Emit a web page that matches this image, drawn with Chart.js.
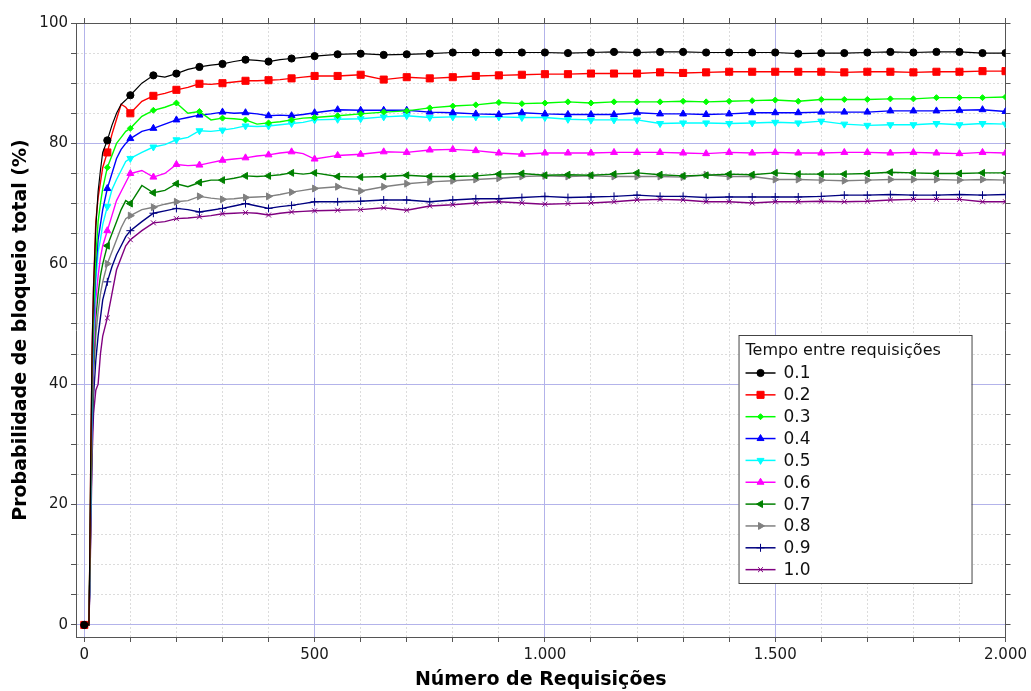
<!DOCTYPE html>
<html>
<head>
<meta charset="utf-8">
<script src="https://cdn.jsdelivr.net/npm/chart.js@4/dist/chart.umd.min.js"></script>
<style>
  html, body { margin: 0; padding: 0; background: #fff; }
  #wrap { width: 1031px; height: 691px; position: relative; }
</style>
</head>
<body>
<div id="wrap"><canvas id="bloqueioChart"></canvas></div>
<script>
// ─── DATA ───
const requisicoes = [0, 10, 12, 14, 17, 20, 25, 30, 35, 40, 50, 60, 70, 80, 90, 100,
  125, 150, 175, 200, 225, 250, 275, 300, 325, 350, 375, 400, 425, 450, 475, 500,
  550, 600, 650, 700, 750, 800, 850, 900, 950, 1000, 1050, 1100, 1150, 1200, 1250,
  1300, 1350, 1400, 1450, 1500, 1550, 1600, 1650, 1700, 1750, 1800, 1850, 1900, 1950, 2000];

const tempos = ['0.1', '0.2', '0.3', '0.4', '0.5', '0.6', '0.7', '0.8', '0.9', '1.0'];

const bloqueio01 = [0, 0, 12, 28, 46, 56, 66, 72, 75.5, 78.5, 80.5, 83, 85, 86.5, 87.2, 88,
  90, 91.3, 91, 91.6, 92.3, 92.7, 93, 93.2, 93.6, 93.9, 93.8, 93.6, 93.9, 94.1, 94.3, 94.5,
  94.8, 94.9, 94.7, 94.8, 94.9, 95.1, 95.1, 95.1, 95.1, 95.1, 95.0, 95.1, 95.2, 95.1, 95.2,
  95.2, 95.1, 95.1, 95.1, 95.1, 94.9, 95.0, 95.0, 95.1, 95.2, 95.1, 95.2, 95.2, 95.0, 95.0];
const bloqueio02 = [0, 0, 11, 27, 46, 56, 67, 71, 73.5, 76, 78.5, 81.5, 84, 86.5, 86, 85,
  87, 87.9, 88.3, 88.9, 89.3, 89.9, 89.8, 90.0, 90.2, 90.4, 90.4, 90.5, 90.6, 90.8, 91.0, 91.2,
  91.2, 91.4, 90.6, 91.0, 90.8, 91.0, 91.2, 91.3, 91.4, 91.5, 91.5, 91.6, 91.6, 91.6, 91.8,
  91.7, 91.8, 91.9, 91.9, 91.9, 91.9, 91.9, 91.8, 91.9, 91.9, 91.8, 91.9, 91.9, 92.0, 92.0];
const bloqueio03 = [0, 0, 10, 24, 42, 52, 61, 67, 70, 72.5, 76, 78, 80, 81, 82, 82.5,
  84.5, 85.5, 86.0, 86.7, 85.0, 85.3, 83.9, 84.2, 84.1, 83.9, 83.2, 83.4, 83.6, 83.9, 84.2, 84.3,
  84.6, 84.9, 85.2, 85.4, 85.9, 86.2, 86.4, 86.8, 86.6, 86.7, 86.9, 86.7, 86.9, 86.9, 86.9,
  87.0, 86.9, 87.0, 87.1, 87.2, 87.0, 87.3, 87.3, 87.3, 87.4, 87.4, 87.6, 87.6, 87.6, 87.7];
const bloqueio04 = [0, 0, 9, 22, 40, 50, 59, 64, 66.5, 69, 72.5, 75, 77.5, 79, 80, 80.8,
  82, 82.5, 83.2, 83.9, 84.3, 84.7, 84.9, 85.2, 85.0, 85.1, 84.9, 84.6, 84.7, 84.6, 84.8, 85.1,
  85.6, 85.5, 85.5, 85.5, 85.2, 85.1, 84.9, 84.8, 85.1, 84.9, 84.8, 84.8, 84.8, 85.1, 84.9,
  84.9, 84.8, 84.9, 85.1, 85.1, 85.1, 85.2, 85.2, 85.2, 85.4, 85.4, 85.4, 85.5, 85.6, 85.3];
const bloqueio05 = [0, 0, 9, 21, 38, 48, 57, 62, 64, 66.5, 69.5, 72.3, 74, 75.5, 77, 77.5,
  78.5, 79.4, 79.8, 80.6, 81.0, 82.1, 82.0, 82.2, 82.5, 82.9, 82.8, 82.9, 83.1, 83.3, 83.5, 83.9,
  84.0, 84.1, 84.4, 84.6, 84.3, 84.4, 84.4, 84.4, 84.3, 84.3, 84.0, 83.9, 83.9, 83.9, 83.3,
  83.4, 83.4, 83.3, 83.4, 83.5, 83.4, 83.7, 83.2, 83.0, 83.1, 83.1, 83.3, 83.1, 83.3, 83.2];
const bloqueio06 = [0, 0, 8, 20, 36, 45, 54, 58, 61, 63, 65.5, 68, 70.5, 72, 73.5, 75,
  75.5, 74.4, 75.0, 76.5, 76.3, 76.4, 76.8, 77.2, 77.4, 77.6, 77.9, 78.1, 78.4, 78.6, 78.3, 77.4,
  78.0, 78.2, 78.6, 78.5, 78.9, 79.0, 78.8, 78.4, 78.2, 78.4, 78.4, 78.4, 78.5, 78.5, 78.5,
  78.4, 78.3, 78.5, 78.4, 78.5, 78.4, 78.4, 78.5, 78.5, 78.4, 78.5, 78.4, 78.3, 78.5, 78.4];
const bloqueio07 = [0, 0, 8, 19, 34, 43, 51, 55, 58, 60, 63, 65, 67, 69, 70.5, 70,
  73.0, 71.8, 72.2, 73.3, 72.8, 73.5, 73.9, 73.9, 74.2, 74.6, 74.5, 74.6, 74.8, 75.1, 74.9, 75.1,
  74.5, 74.4, 74.5, 74.7, 74.5, 74.5, 74.6, 74.9, 75.0, 74.7, 74.8, 74.7, 74.9, 75.1, 74.8,
  74.6, 74.7, 74.9, 74.8, 75.1, 74.9, 74.9, 74.9, 75.0, 75.2, 75.1, 75.0, 75.0, 75.1, 75.1];
const bloqueio08 = [0, 0, 7, 18, 33, 41, 48, 52, 55, 57, 60, 62, 64, 66, 67.5, 68,
  69, 69.4, 69.9, 70.3, 70.5, 71.2, 70.9, 70.7, 70.8, 71.0, 71.1, 71.2, 71.5, 71.9, 72.2, 72.5,
  72.8, 72.1, 72.8, 73.3, 73.6, 73.8, 74.0, 74.2, 74.5, 74.6, 74.5, 74.6, 74.5, 74.5, 74.5,
  74.4, 74.8, 74.5, 74.5, 74.0, 74.0, 73.9, 73.8, 73.9, 74.0, 74.0, 74.0, 73.9, 74.0, 73.9];
const bloqueio09 = [0, 0, 7, 17, 31, 38, 44, 48, 51, 54, 57, 59.5, 61.5, 63, 64.5, 65.5,
  67, 68.4, 68.8, 69.2, 69.0, 68.6, 68.9, 69.2, 69.6, 70.0, 69.6, 69.2, 69.5, 69.7, 70.0, 70.3,
  70.3, 70.4, 70.6, 70.6, 70.3, 70.6, 70.8, 70.8, 71.0, 71.2, 71.0, 71.1, 71.2, 71.4, 71.2,
  71.2, 71.0, 71.1, 71.1, 71.1, 71.1, 71.2, 71.4, 71.4, 71.5, 71.4, 71.4, 71.5, 71.4, 71.5];
const bloqueio10 = [0, 0, 6, 15, 28, 35, 39, 40, 45, 48, 51, 55, 59, 61, 63, 64,
  65.5, 66.8, 67.0, 67.5, 67.6, 67.8, 68.0, 68.3, 68.4, 68.5, 68.4, 68.1, 68.4, 68.6, 68.7, 68.8,
  68.9, 69.0, 69.3, 68.9, 69.6, 69.8, 70.1, 70.3, 70.1, 69.9, 70.0, 70.1, 70.3, 70.6, 70.7,
  70.6, 70.3, 70.3, 70.1, 70.3, 70.3, 70.4, 70.3, 70.4, 70.6, 70.7, 70.7, 70.7, 70.3, 70.3];

const seriesValues = [bloqueio01, bloqueio02, bloqueio03, bloqueio04, bloqueio05,
  bloqueio06, bloqueio07, bloqueio08, bloqueio09, bloqueio10];

// ─── STYLES ───
const cores = ['#000000', '#ff0000', '#00ff00', '#0000ff', '#00ffff',
  '#ff00ff', '#008000', '#808080', '#000080', '#800080'];
const marcadores = [
  { style: 'circle', r: 3.6, rot: 0 },
  { style: 'rect', r: 5, rot: 0 },
  { style: 'rectRot', r: 3, rot: 0 },
  { style: 'triangle', r: 4, rot: 0 },
  { style: 'triangle', r: 4, rot: 180 },
  { style: 'triangle', r: 4, rot: 0 },
  { style: 'triangle', r: 4, rot: 270 },
  { style: 'triangle', r: 4, rot: 90 },
  { style: 'cross', r: 4, rot: 0 },
  { style: 'crossRot', r: 3.5, rot: 0 }
];

Chart.defaults.font.family = "'DejaVu Sans', sans-serif";
Chart.defaults.color = '#1a1a1a';

const datasets = tempos.map((t, k) => ({
  label: t,
  data: requisicoes.map((x, i) => ({ x: x, y: seriesValues[k][i] })),
  borderColor: cores[k],
  backgroundColor: cores[k],
  borderWidth: k === 0 ? 1.2 : 1.4,
  tension: 0,
  pointStyle: marcadores[k].style,
  pointRotation: marcadores[k].rot,
  pointRadius: requisicoes.map(x => x % 50 === 0 ? marcadores[k].r : 0),
  pointBorderColor: cores[k],
  pointBackgroundColor: cores[k],
  pointBorderWidth: 1,
  pointHoverRadius: 0
}));

function fmtMilhar(v) {
  return String(v).replace(/\B(?=(\d{3})+(?!\d))/g, '.');
}

const corMaior = '#b3b3ea';
const corMenor = '#dcdcdc';
const corEixo = '#555555';

// ─── LEGEND DRAWN INSIDE THE PLOT ───
const legendaInterna = {
  id: 'legendaInterna',
  afterDraw(chart) {
    const ctx = chart.ctx;
    const area = chart.chartArea;
    const left = area.right - 267;
    const top = area.bottom - 302;
    const w = 233, h = 248;
    ctx.save();
    ctx.fillStyle = '#ffffff';
    ctx.fillRect(left, top, w, h);
    ctx.strokeStyle = '#444';
    ctx.lineWidth = 1;
    ctx.strokeRect(left + 0.5, top + 0.5, w, h);
    ctx.fillStyle = '#111';
    ctx.textBaseline = 'middle';
    ctx.font = "16px 'DejaVu Sans'";
    ctx.fillText('Tempo entre requisições', left + 7, top + 16);
    ctx.font = "17px 'DejaVu Sans'";
    chart.data.datasets.forEach((ds, k) => {
      const y = top + 38 + k * 21.85;
      ctx.strokeStyle = ds.borderColor;
      ctx.lineWidth = 1.5;
      ctx.beginPath();
      ctx.moveTo(left + 7, y);
      ctx.lineTo(left + 37, y);
      ctx.stroke();
      ctx.fillStyle = ds.borderColor;
      ctx.strokeStyle = ds.borderColor;
      ctx.lineWidth = 1;
      Chart.helpers.drawPoint(ctx, {
        pointStyle: ds.pointStyle,
        rotation: ds.pointRotation,
        radius: marcadores[k].r,
        borderWidth: 1
      }, left + 22, y);
      ctx.fillStyle = '#111';
      ctx.fillText(ds.label, left + 45, y + 1);
    });
    ctx.restore();
  }
};

// ─── CREATE THE CHART ───
const ctx = document.getElementById('bloqueioChart').getContext('2d');
const bloqueioChart = new Chart(ctx, {
  type: 'line',
  data: { datasets: datasets },
  options: {
    responsive: true,
    maintainAspectRatio: false,
    animation: false,
    layout: { padding: 0 },
    plugins: {
      legend: { display: false },
      tooltip: { enabled: false }
    },
    scales: {
      x: {
        type: 'linear',
        position: 'bottom',
        min: -18,
        max: 2000,
        afterFit: s => { s.height = 54; },
        ticks: {
          stepSize: 100,
          maxTicksLimit: 50,
          autoSkip: false,
          includeBounds: false,
          maxRotation: 0,
          padding: 4,
          font: { size: 15 },
          callback: v => v % 500 === 0 ? fmtMilhar(v) : ''
        },
        grid: {
          color: c => (c.tick && c.tick.value % 500 === 0) ? corMaior : corMenor,
          lineWidth: 1,
          tickColor: corEixo,
          tickLength: 5
        },
        border: {
          color: corEixo,
          width: 1,
          dash: c => (c.tick && c.tick.value % 500 !== 0) ? [2, 2] : []
        },
        title: {
          display: true,
          text: 'Número de Requisições',
          font: { size: 19, weight: 'bold' },
          color: '#000',
          padding: { top: 0, bottom: 0 }
        }
      },
      x2: {
        type: 'linear',
        axis: 'x',
        position: 'top',
        min: -18,
        max: 2000,
        afterFit: s => { s.height = 23; },
        ticks: {
          display: false,
          stepSize: 100,
          maxTicksLimit: 50,
          autoSkip: false,
          includeBounds: false
        },
        grid: { drawOnChartArea: false, tickColor: corEixo, tickLength: 5 },
        border: { color: corEixo, width: 1 }
      },
      y: {
        type: 'linear',
        position: 'left',
        min: -2,
        max: 100,
        afterFit: s => { s.width = 76; },
        ticks: {
          stepSize: 5,
          maxTicksLimit: 50,
          autoSkip: false,
          includeBounds: false,
          padding: 3,
          font: { size: 15 },
          callback: v => v % 20 === 0 ? String(v) : ''
        },
        grid: {
          color: c => (c.tick && c.tick.value % 20 === 0) ? corMaior : corMenor,
          lineWidth: 1,
          tickColor: corEixo,
          tickLength: 5
        },
        border: {
          color: corEixo,
          width: 1,
          dash: c => (c.tick && c.tick.value % 20 !== 0) ? [2, 2] : []
        },
        title: {
          display: true,
          text: 'Probabilidade de bloqueio total (%)',
          font: { size: 19, weight: 'bold' },
          color: '#000',
          padding: { top: 10, bottom: 0 }
        }
      },
      y2: {
        type: 'linear',
        axis: 'y',
        position: 'right',
        min: -2,
        max: 100,
        afterFit: s => { s.width = 24; },
        ticks: {
          display: false,
          stepSize: 5,
          maxTicksLimit: 50,
          autoSkip: false,
          includeBounds: false
        },
        grid: { drawOnChartArea: false, tickColor: corEixo, tickLength: 5 },
        border: { color: corEixo, width: 1 }
      }
    }
  },
  plugins: [legendaInterna]
});
</script>
</body>
</html>
